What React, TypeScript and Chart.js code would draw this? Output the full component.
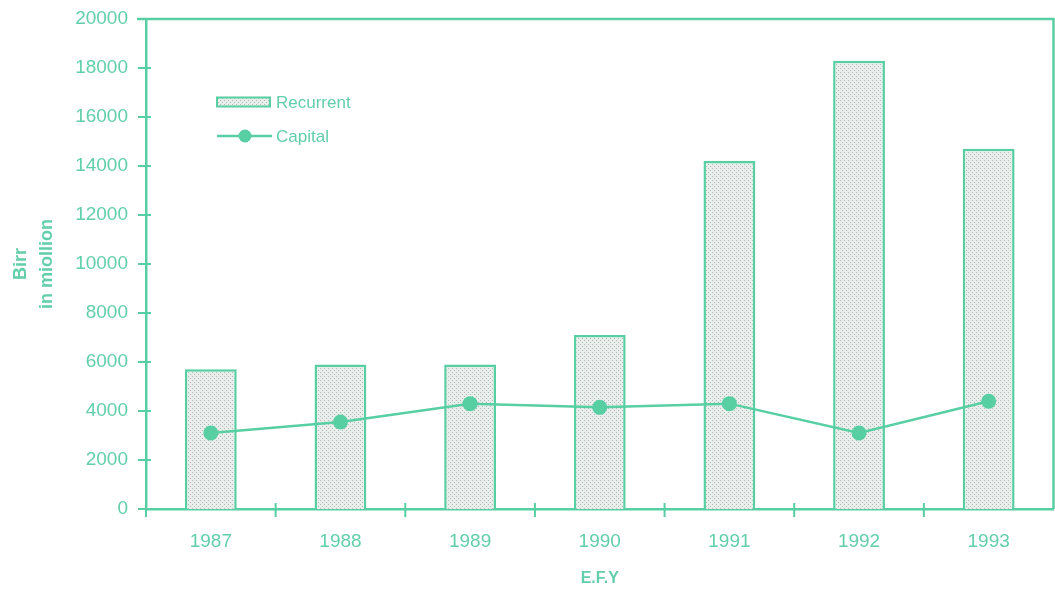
import React, { useEffect, useRef } from "react";
import { Chart, registerables } from "chart.js";

Chart.register(...registerables);

const categories = ["1987", "1988", "1989", "1990", "1991", "1992", "1993"];
const recurrent = [5700, 5900, 5900, 7100, 14200, 18300, 14700];
const capital = [3100, 3550, 4300, 4150, 4300, 3100, 4400];
const yTicksMax = 20000;
const yTickStep = 2000;
const xTitle = "E.F.Y";
const yTitle = ["Birr", "in miollion"];

const TEAL = "#57cfa3";
const TEXT = "#62cfaa";
const FONT = "'Liberation Sans', Arial, sans-serif";

function makePattern(): CanvasPattern | string {
  const c = document.createElement("canvas");
  c.width = 4;
  c.height = 4;
  const g = c.getContext("2d");
  if (!g) return "#e3e9e6";
  g.fillStyle = "#e9eeec";
  g.fillRect(0, 0, 4, 4);
  g.fillStyle = "#aebdb6";
  g.fillRect(0, 0, 1, 1);
  g.fillRect(2, 2, 1, 1);
  const p = g.createPattern(c, "repeat");
  return p || "#e3e9e6";
}

const decorPlugin = {
  id: "decor",
  afterDraw(chart: any) {
    const ctx = chart.ctx as CanvasRenderingContext2D;
    const area = chart.chartArea;
    const xs = chart.scales.x;
    const ys = chart.scales.y;
    ctx.save();
    ctx.strokeStyle = TEAL;
    ctx.lineWidth = 2.5;
    // frame: top and right
    ctx.beginPath();
    ctx.moveTo(area.left - 9, area.top);
    ctx.lineTo(area.right, area.top);
    ctx.lineTo(area.right, area.bottom);
    ctx.stroke();
    // y ticks crossing axis
    ctx.lineWidth = 2;
    ys.ticks.forEach((t: any) => {
      const y = ys.getPixelForValue(t.value);
      ctx.beginPath();
      ctx.moveTo(area.left - 8, y);
      ctx.lineTo(area.left + 5, y);
      ctx.stroke();
    });
    // x axis: extend y-axis below and boundary ticks
    ctx.beginPath();
    ctx.moveTo(area.left, area.bottom);
    ctx.lineTo(area.left, area.bottom + 8);
    ctx.stroke();
    for (let i = 1; i < categories.length; i++) {
      const x = (xs.getPixelForTick(i - 1) + xs.getPixelForTick(i)) / 2;
      ctx.beginPath();
      ctx.moveTo(x, area.bottom - 6);
      ctx.lineTo(x, area.bottom + 8);
      ctx.stroke();
    }
    // legend
    const lx = area.left + 71;
    const ly = area.top + 83;
    const ds0 = chart.data.datasets[1];
    const ds1 = chart.data.datasets[0];
    ctx.fillStyle = ds0.backgroundColor;
    ctx.fillRect(lx, ly - 4.5, 53, 9);
    ctx.strokeStyle = TEAL;
    ctx.lineWidth = 2;
    ctx.strokeRect(lx, ly - 4.5, 53, 9);
    ctx.font = `17px ${FONT}`;
    ctx.fillStyle = TEXT;
    ctx.textBaseline = "middle";
    ctx.textAlign = "left";
    ctx.fillText(ds0.label, lx + 59, ly + 1);
    const ly2 = ly + 34;
    ctx.lineWidth = 2.5;
    ctx.beginPath();
    ctx.moveTo(lx, ly2);
    ctx.lineTo(lx + 55, ly2);
    ctx.stroke();
    ctx.fillStyle = TEAL;
    ctx.beginPath();
    ctx.arc(lx + 28, ly2, 6.5, 0, Math.PI * 2);
    ctx.fill();
    ctx.fillStyle = TEXT;
    ctx.fillText(ds1.label, lx + 59, ly2 + 1);
    ctx.restore();
  },
};

export default function App() {
  const ref = useRef<HTMLCanvasElement | null>(null);
  useEffect(() => {
    if (!ref.current) return;
    const pattern = makePattern();
    const chart = new Chart(ref.current, {
      type: "bar",
      data: {
        labels: categories,
        datasets: [
          {
            type: "line",
            label: "Capital",
            data: capital,
            borderColor: TEAL,
            backgroundColor: TEAL,
            borderWidth: 2.5,
            pointRadius: 7.5,
            pointBackgroundColor: TEAL,
            pointBorderWidth: 0,
            tension: 0,
            order: 0,
          } as any,
          {
            type: "bar",
            label: "Recurrent",
            data: recurrent,
            backgroundColor: pattern as any,
            borderColor: TEAL,
            borderWidth: 2.5,
            barPercentage: 0.4,
            categoryPercentage: 1,
            order: 1,
          } as any,
        ],
      },
      options: {
        responsive: false,
        animation: false,
        layout: { padding: { left: 0, right: 2, top: 19, bottom: 0 } },
        plugins: {
          legend: { display: false },
          tooltip: { enabled: false },
        },
        scales: {
          x: {
            grid: { display: false, drawTicks: false },
            border: { display: true, color: TEAL, width: 2.5 },
            ticks: {
              color: TEXT,
              font: { family: FONT, size: 19 },
              padding: 21,
              maxRotation: 0,
            },
            title: {
              display: true,
              text: xTitle,
              color: TEXT,
              font: { family: FONT, size: 16, weight: "bold" },
              padding: { top: 0, bottom: 4 },
            },
            afterFit(scale: any) {
              scale.height = 83;
              scale.paddingLeft = 0;
              scale.paddingRight = 0;
            },
          },
          y: {
            min: 0,
            max: yTicksMax,
            grid: { display: false, drawTicks: false },
            border: { display: true, color: TEAL, width: 2.5 },
            ticks: {
              stepSize: yTickStep,
              color: TEXT,
              font: { family: FONT, size: 19 },
              padding: 18,
              callback: (v: any) => String(v),
            },
            title: {
              display: true,
              text: yTitle,
              color: TEXT,
              font: { family: FONT, size: 18, weight: "bold", lineHeight: 1.45 },
              padding: { top: 8, bottom: 0 },
            },
            afterFit(scale: any) {
              scale.width = 146;
              scale.paddingTop = 0;
              scale.paddingBottom = 0;
            },
          },
        },
      },
      plugins: [decorPlugin],
    });
    return () => chart.destroy();
  }, []);
  return (
    <div
      style={{
        position: "fixed",
        left: 0,
        top: 0,
        width: 1055,
        height: 592,
        overflow: "hidden",
        background: "#fff",
      }}
    >
      <canvas ref={ref} width={1061} height={592} style={{ display: "block" }} />
    </div>
  );
}
